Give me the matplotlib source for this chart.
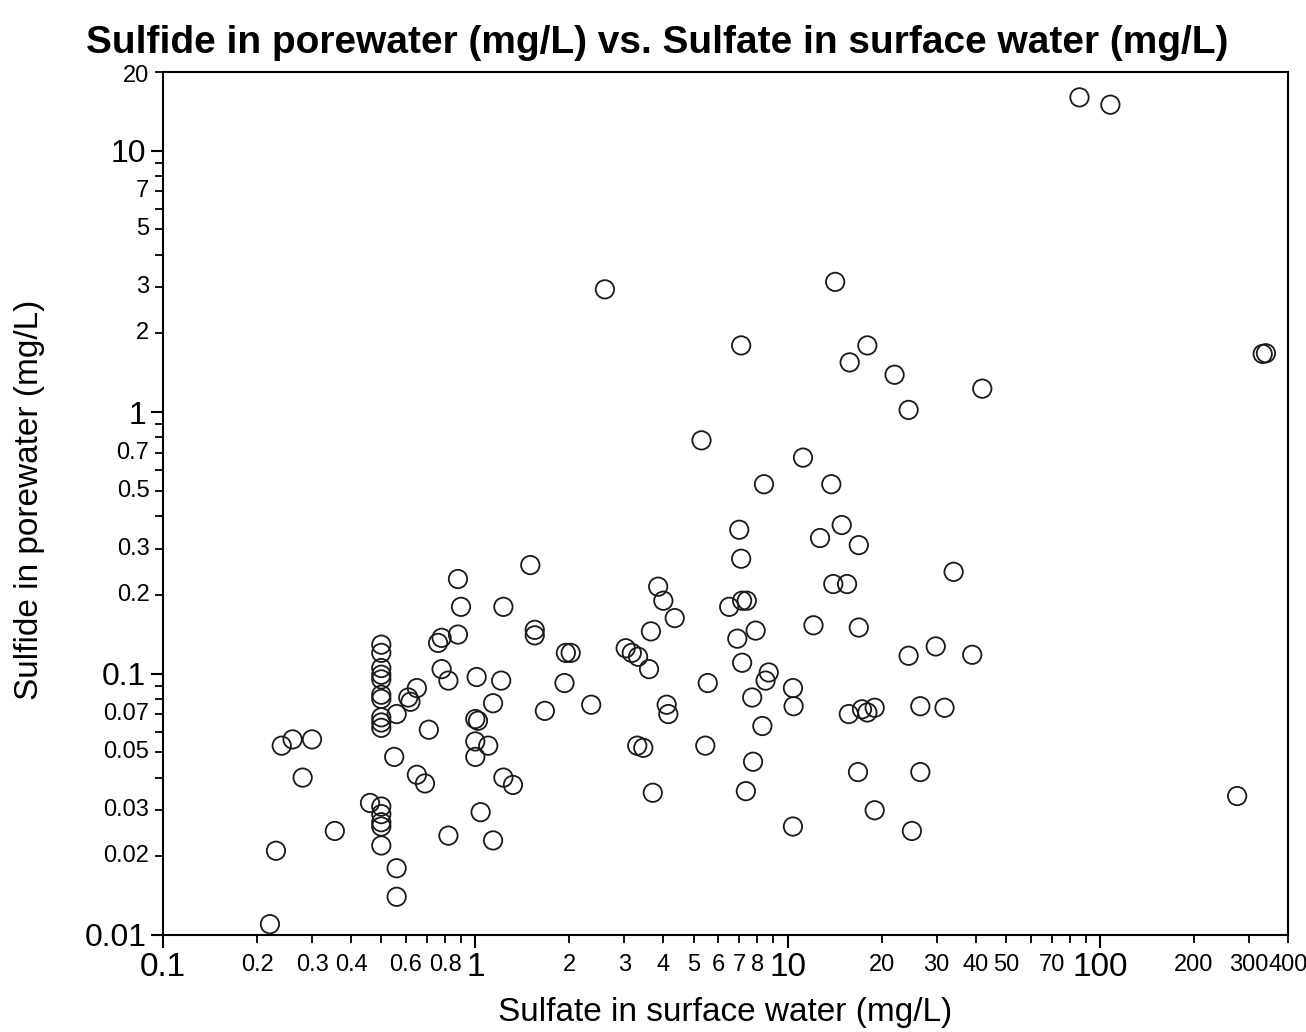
import matplotlib
matplotlib.use("Agg")
import matplotlib.pyplot as plt
from matplotlib.ticker import FixedLocator, NullFormatter
from matplotlib.transforms import ScaledTranslation

plt.rcParams['font.family'] = ['Liberation Sans', 'DejaVu Sans']

# sulfate in surface water (mg/L)
sulfate = [
    86, 108, 2.6, 14.2, 7.1, 18, 15.8, 22, 42, 24.4, 332, 340,
    5.3, 11.2, 8.4, 13.8, 7.0, 14.9, 12.7, 16.9, 7.1, 34, 14, 15.5,
    3.85, 1.5, 0.88, 4.0, 0.9, 1.23, 6.5, 7.15, 7.4, 4.35, 12.1, 16.9,
    7.9, 3.65, 1.55, 1.55, 0.88, 0.78, 0.76, 6.9,
    0.5, 0.5, 0.5, 0.5, 0.5, 0.5, 0.5, 0.5, 0.5, 0.5,
    1.95, 2.02, 3.03, 3.17, 3.32, 3.6, 24.4, 29.8, 39, 7.15, 0.78, 8.7,
    1.01, 1.21, 1.93, 0.82, 5.55, 8.5, 0.65, 10.4, 0.61, 0.62, 1.14, 7.7,
    2.35, 4.1, 1.67, 4.15, 26.6, 31.8, 10.45, 15.7, 17.3, 18, 19, 0.56,
    1.0, 1.02, 0.71, 8.3, 0.24, 0.26, 0.30, 3.3, 3.45, 5.45, 1.1, 1.0,
    1.0, 0.55, 7.75, 0.28, 0.65, 0.69, 1.23, 1.32, 16.8, 26.6, 0.46,
    0.5, 0.5, 0.5, 0.5, 3.7, 7.35, 275, 0.355, 0.82, 1.04, 1.14, 10.4,
    19, 25, 0.5, 0.23, 0.56, 0.56, 0.22,
]

# sulfide in porewater (mg/L)
sulfide = [
    16, 15, 2.95, 3.15, 1.8, 1.8, 1.55, 1.39, 1.23, 1.02, 1.67, 1.68,
    0.78, 0.67, 0.53, 0.53, 0.355, 0.37, 0.33, 0.31, 0.275, 0.245, 0.22, 0.22,
    0.215, 0.26, 0.23, 0.19, 0.18, 0.18, 0.18, 0.19, 0.19, 0.163, 0.153, 0.15,
    0.146, 0.145, 0.147, 0.14, 0.141, 0.137, 0.131, 0.136,
    0.129, 0.12, 0.105, 0.099, 0.095, 0.083, 0.08, 0.068, 0.065, 0.062,
    0.12, 0.12, 0.125, 0.12, 0.116, 0.104, 0.117, 0.127, 0.118, 0.11, 0.104, 0.101,
    0.097, 0.094, 0.092, 0.094, 0.092, 0.094, 0.088, 0.088, 0.081, 0.078, 0.077, 0.081,
    0.076, 0.076, 0.072, 0.07, 0.075, 0.074, 0.075, 0.07, 0.073, 0.071, 0.074, 0.07,
    0.067, 0.066, 0.061, 0.063, 0.053, 0.056, 0.056, 0.053, 0.052, 0.053, 0.053, 0.055,
    0.048, 0.048, 0.046, 0.04, 0.041, 0.038, 0.04, 0.0375, 0.042, 0.042, 0.032,
    0.031, 0.029, 0.027, 0.026, 0.035, 0.0355, 0.034, 0.025, 0.024, 0.0295, 0.023, 0.026,
    0.030, 0.025, 0.022, 0.021, 0.018, 0.014, 0.011,
]

x_major = [0.1, 1, 10, 100]
x_minor_labeled = [0.2, 0.3, 0.4, 0.6, 0.8, 2, 3, 4, 5, 6, 7, 8,
                   20, 30, 40, 50, 70, 200, 300, 400]
y_major = [0.01, 0.1, 1, 10]
y_minor_labeled = [0.02, 0.03, 0.05, 0.07, 0.2, 0.3, 0.5, 0.7,
                   2, 3, 5, 7, 20]


def fmt(v):
    return ('%g' % v)


fig = plt.figure(figsize=(13.06, 10.32), dpi=100)
ax = fig.add_axes([0.1248, 0.094, 0.8614, 0.8362])

ax.scatter(sulfate, sulfide, s=175, facecolors='none', edgecolors='#1a1a1a',
           linewidths=1.3, zorder=3)

ax.set_xscale('log')
ax.set_yscale('log')
ax.set_xlim(0.1, 400)
ax.set_ylim(0.01, 20)

# minor ticks at every integer step, only some labelled
x_minor = [m * d for d in [0.1, 1, 10, 100] for m in range(2, 10) if m * d <= 400]
y_minor = [m * d for d in [0.01, 0.1, 1, 10] for m in range(2, 10) if m * d <= 20]
ax.xaxis.set_major_locator(FixedLocator(x_major))
ax.xaxis.set_minor_locator(FixedLocator(x_minor))
ax.yaxis.set_major_locator(FixedLocator(y_major))
ax.yaxis.set_minor_locator(FixedLocator(y_minor))
ax.set_xticklabels([fmt(v) for v in x_major], fontsize=24)
ax.set_yticklabels([fmt(v) for v in y_major], fontsize=23)
ax.xaxis.set_minor_formatter(NullFormatter())
ax.yaxis.set_minor_formatter(NullFormatter())

ax.tick_params(which='major', direction='out', length=9, width=1.5, pad=3)
ax.tick_params(which='minor', direction='out', length=6, width=1.3)

for v in x_minor_labeled:
    ax.text(v, -0.022, fmt(v), transform=ax.get_xaxis_transform(),
            ha='center', va='top', fontsize=17)
for v in y_minor_labeled:
    tr = ax.get_yaxis_transform()
    if v == 20:
        # top label sits just under the title
        tr = tr + ScaledTranslation(0, -3 / 72, fig.dpi_scale_trans)
    ax.text(-0.012, v, fmt(v), transform=tr, ha='right', va='center', fontsize=17)

for sp in ax.spines.values():
    sp.set_linewidth(1.5)
    sp.set_color('black')

ax.set_xlabel('Sulfate in surface water (mg/L)', fontsize=24, labelpad=10)
ax.set_ylabel('Sulfide in porewater (mg/L)', fontsize=24)
ax.yaxis.set_label_coords(-0.105, 0.504)
fig.text(0.503, 0.9485, 'Sulfide in porewater (mg/L) vs. Sulfate in surface water (mg/L)',
         ha='center', va='baseline', fontsize=28, fontweight='bold')

fig.savefig('out.png', dpi=100)
